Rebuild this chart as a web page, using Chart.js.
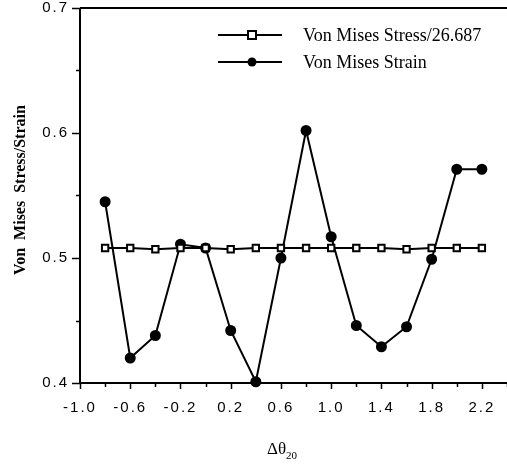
<!DOCTYPE html>
<html>
<head>
<meta charset="utf-8">
<script src="https://cdn.jsdelivr.net/npm/chart.js@4/dist/chart.umd.min.js"></script>
<style>
html,body{margin:0;padding:0;background:#fff;}
#wrap{width:507px;height:465px;position:relative;}
</style>
</head>
<body>
<div id="wrap"><canvas id="c" width="507" height="465"></canvas></div>
<script>
// ---- data ----
const deltaTheta = [-0.8,-0.6,-0.4,-0.2,0.0,0.2,0.4,0.6,0.8,1.0,1.2,1.4,1.6,1.8,2.0,2.2];
const stressValues = [0.508,0.508,0.507,0.508,0.508,0.507,0.508,0.508,0.508,0.508,0.508,0.508,0.507,0.508,0.508,0.508];
const strainValues = [0.545,0.420,0.438,0.511,0.508,0.442,0.401,0.500,0.602,0.517,0.446,0.429,0.445,0.499,0.571,0.571];
const seriesNames = ["Von Mises Stress/26.687","Von Mises Strain"];
const xTicks = [-1.0,-0.6,-0.2,0.2,0.6,1.0,1.4,1.8,2.2];
const yTicks = [0.4,0.5,0.6,0.7];
const xRange = [-1.0, 2.4];
const yRange = [0.4, 0.7];
const xTitleMain = "\u0394\u03B8";
const xTitleSub = "20";
const yTitle = "Von  Mises  Stress/Strain";

const pts = (vals) => deltaTheta.map((x,i)=>({x:x,y:vals[i]}));

const spacingPlugin = {
  id:'spacing',
  beforeDraw(chart){ chart.ctx.letterSpacing = '2px'; },
  afterDraw(chart){ chart.ctx.letterSpacing = '0px'; }
};

const framePlugin = {
  id:'frame',
  afterDraw(chart){
    const ctx = chart.ctx;
    const a = chart.chartArea;
    const xs = chart.scales.x, ys = chart.scales.y;
    ctx.save();
    ctx.letterSpacing = '0px';
    ctx.strokeStyle = '#000';
    ctx.lineWidth = 2;
    ctx.beginPath();
    ctx.moveTo(a.left, a.top); ctx.lineTo(a.right, a.top);
    ctx.moveTo(a.left, a.top); ctx.lineTo(a.left, a.bottom);
    ctx.moveTo(a.left-1, a.bottom); ctx.lineTo(a.right, a.bottom);
    ctx.stroke();
    // tick marks
    ctx.lineWidth = 1.5;
    ctx.beginPath();
    for (let v = xRange[0]; v <= xRange[1]+1e-9; v += 0.2) {
      const px = Math.round(xs.getPixelForValue(v))+0.5;
      const major = xTicks.some(t=>Math.abs(t-v)<1e-6);
      ctx.moveTo(px, a.bottom); ctx.lineTo(px, a.bottom + (major?6:4));
    }
    for (let v = yRange[0]; v <= yRange[1]+1e-9; v += 0.05) {
      const py = Math.round(ys.getPixelForValue(v))+0.5;
      const major = yTicks.some(t=>Math.abs(t-v)<1e-6);
      ctx.moveTo(a.left, py); ctx.lineTo(a.left - (major?8:4), py);
    }
    ctx.stroke();
    // x title
    ctx.fillStyle = '#000';
    ctx.textBaseline = 'alphabetic';
    ctx.textAlign = 'left';
    ctx.font = '17px "Liberation Serif", "Times New Roman", serif';
    const tx = 267, ty = 454;
    ctx.fillText(xTitleMain, tx, ty);
    const w = ctx.measureText(xTitleMain).width;
    ctx.font = '11px "Liberation Serif", "Times New Roman", serif';
    ctx.fillText(xTitleSub, tx + w, ty + 5);
    // y title
    ctx.save();
    ctx.translate(21, 190);
    ctx.rotate(-Math.PI/2);
    ctx.textAlign = 'center';
    ctx.textBaseline = 'middle';
    ctx.font = 'bold 16px "Liberation Serif", "Times New Roman", serif';
    ctx.fillText(yTitle, 0, 0);
    ctx.restore();
    // legend
    ctx.font = '18px "Liberation Serif", "Times New Roman", serif';
    ctx.textBaseline = 'middle';
    chart.data.datasets.forEach((ds, i) => {
      const y = 35 + i*27;
      ctx.strokeStyle = '#000';
      ctx.lineWidth = 2;
      ctx.beginPath(); ctx.moveTo(218, y); ctx.lineTo(282, y); ctx.stroke();
      if (ds.pointStyle === 'rect') {
        ctx.fillStyle = '#fff';
        ctx.fillRect(248, y-4, 8, 8);
        ctx.lineWidth = 2;
        ctx.strokeRect(248, y-4, 8, 8);
      } else {
        ctx.fillStyle = '#000';
        ctx.beginPath(); ctx.arc(252, y, 4.5, 0, Math.PI*2); ctx.fill();
      }
      ctx.fillStyle = '#000';
      ctx.fillText(ds.label, 303, y + 1);
    });
    ctx.restore();
  }
};

function noPad(s){ s.paddingTop = 0; s.paddingBottom = 0; s.paddingLeft = 0; s.paddingRight = 0; }

new Chart(document.getElementById('c'), {
  type: 'line',
  data: {
    datasets: [
      {
        label: seriesNames[0],
        data: pts(stressValues),
        borderColor: '#000',
        borderWidth: 2,
        pointStyle: 'rect',
        pointRadius: 4.5,
        pointBorderWidth: 2,
        pointBackgroundColor: '#fff',
        pointBorderColor: '#000',
        tension: 0
      },
      {
        label: seriesNames[1],
        data: pts(strainValues),
        borderColor: '#000',
        borderWidth: 2,
        pointStyle: 'circle',
        pointRadius: 4.5,
        pointBackgroundColor: '#000',
        pointBorderColor: '#000',
        tension: 0
      }
    ]
  },
  options: {
    responsive: false,
    animation: false,
    clip: false,
    layout: { autoPadding: false, padding: { top: 8, left: 0, right: 0, bottom: 0 } },
    plugins: { legend: { display: false }, tooltip: { enabled: false } },
    scales: {
      x: {
        type: 'linear',
        min: xRange[0], max: xRange[1],
        afterFit(s){ s.height = 82; noPad(s); },
        afterBuildTicks(s){ s.ticks = xTicks.map(v=>({value:v})); },
        grid: { display: false, drawTicks: false },
        border: { display: false },
        ticks: {
          color: '#000',
          padding: 16,
          maxRotation: 0,
          autoSkip: false,
          font: { family: '"Liberation Sans", Arial, sans-serif', size: 15 },
          callback: (v) => Number(v).toFixed(1)
        }
      },
      y: {
        type: 'linear',
        min: yRange[0], max: yRange[1],
        afterFit(s){ s.width = 80; noPad(s); },
        afterBuildTicks(s){ s.ticks = yTicks.map(v=>({value:v})); },
        grid: { display: false, drawTicks: false },
        border: { display: false },
        ticks: {
          color: '#000',
          padding: 11,
          font: { family: '"Liberation Sans", Arial, sans-serif', size: 15 },
          callback: (v) => Number(v).toFixed(1)
        }
      }
    }
  },
  plugins: [spacingPlugin, framePlugin]
});
</script>
</body>
</html>
